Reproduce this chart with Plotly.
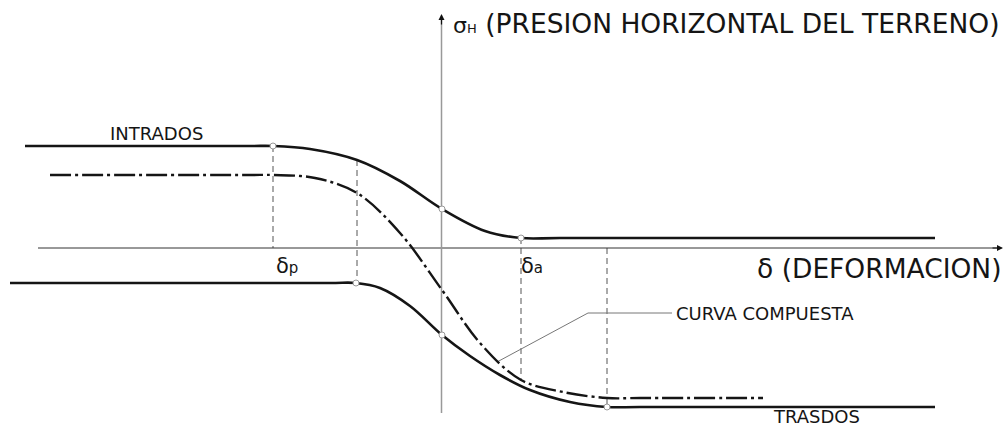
import plotly.graph_objects as go

# Curve definitions (drawing units: x to the right, y downward)
intrados_x = [25, 250, 273, 310, 357, 400, 442, 485, 521, 560, 935]
intrados_y = [146, 146, 146, 149, 160, 181, 209, 231, 238, 238, 238]

trasdos_x = [10, 330, 356, 380, 410, 442, 470, 500, 530, 570, 607, 640, 935]
trasdos_y = [283, 283, 283, 288, 306, 335, 356, 375, 390, 402, 407, 407, 407]

compuesta_x = [50, 250, 273, 315, 357, 400, 442, 480, 521, 563, 607, 640, 763]
compuesta_y = [175, 175, 175, 178, 193, 233, 290, 343, 380, 392, 398, 398, 398]

# Transition points marked on the solid curves
nodes_x = [273, 442, 521, 356, 442, 607]
nodes_y = [146, 209, 238, 283, 335, 407]

# Reference verticals: (x, y_top, y_bottom)
guide_x = [273, 357, 521, 607]
guide_top = [146, 160, 238, 248]
guide_bottom = [248, 283, 380, 407]

# Axis geometry
origin_x, origin_y = 441.5, 248
h_axis_start, h_axis_end = 38, 1003
v_axis_top, v_axis_bottom = 14, 413

# Leader for the composite-curve label
leader_x = [497, 588, 672]
leader_y = [362, 313, 313]

INK = "#151515"
FONT = "DejaVu Sans"

fig = go.Figure()

# Thin dashed reference verticals
for gx, gt, gb in zip(guide_x, guide_top, guide_bottom):
    fig.add_trace(go.Scatter(x=[gx, gx], y=[gt, gb], mode="lines",
                             line=dict(color="#555", width=1, dash="6px,4px"),
                             hoverinfo="skip"))

# Axes
fig.add_trace(go.Scatter(x=[h_axis_start, h_axis_end - 6], y=[origin_y, origin_y], mode="lines",
                         line=dict(color="#333", width=1), hoverinfo="skip"))
fig.add_trace(go.Scatter(x=[origin_x, origin_x], y=[v_axis_bottom, v_axis_top + 6], mode="lines",
                         line=dict(color="#999", width=1.5), hoverinfo="skip"))

# Leader line
fig.add_trace(go.Scatter(x=leader_x, y=leader_y, mode="lines",
                         line=dict(color="#777", width=1), hoverinfo="skip"))

# Composite curve (dash-dot)
fig.add_trace(go.Scatter(x=compuesta_x, y=compuesta_y, mode="lines",
                         line=dict(color=INK, width=2.4, shape="spline", smoothing=1.0,
                                   dash="21px,4px,3px,4px"),
                         hoverinfo="skip"))

# Intrados and trasdos curves
for cx, cy in ((intrados_x, intrados_y), (trasdos_x, trasdos_y)):
    fig.add_trace(go.Scatter(x=cx, y=cy, mode="lines",
                             line=dict(color=INK, width=2.6, shape="spline", smoothing=1.0),
                             hoverinfo="skip"))

# Node markers
fig.add_trace(go.Scatter(x=nodes_x, y=nodes_y, mode="markers",
                         marker=dict(size=6, color="white", line=dict(color="#999", width=1)),
                         hoverinfo="skip"))

# Arrowheads at the ends of the axes
fig.add_annotation(x=h_axis_end, y=origin_y, ax=h_axis_end - 12, ay=origin_y,
                   xref="x", yref="y", axref="x", ayref="y", text="", showarrow=True,
                   arrowhead=2, arrowsize=1, arrowwidth=1.2, arrowcolor="#111")
fig.add_annotation(x=origin_x, y=v_axis_top, ax=origin_x, ay=v_axis_top + 12,
                   xref="x", yref="y", axref="x", ayref="y", text="", showarrow=True,
                   arrowhead=2, arrowsize=1, arrowwidth=1.2, arrowcolor="#111")

def label(x, y, text, size, anchor="left"):
    fig.add_annotation(x=x, y=y, text=text, showarrow=False, xref="x", yref="y",
                       xanchor=anchor, yanchor="middle",
                       font=dict(family=FONT, size=size, color=INK))

label(451, 23, "<span style='font-size:22px'>σ</span>"
               "<span style='font-size:13px'>H</span> (PRESION HORIZONTAL DEL TERRENO)", 26.5)
label(755, 268, "δ (DEFORMACION)", 26.5)
label(274, 266, "δ<span style='font-size:15px'>p</span>", 21)
label(519, 266, "δ<span style='font-size:15px'>a</span>", 21)
label(156, 133, "INTRADOS", 18, anchor="center")
label(816, 416, "TRASDOS", 18, anchor="center")
label(674, 313, "CURVA COMPUESTA", 18)

fig.update_layout(
    width=1004, height=427,
    margin=dict(l=0, r=0, t=0, b=0),
    paper_bgcolor="white", plot_bgcolor="white",
    showlegend=False,
    xaxis=dict(range=[0, 1004], visible=False, fixedrange=True),
    yaxis=dict(range=[427, 0], visible=False, fixedrange=True),
)

fig.write_html("out.html")
